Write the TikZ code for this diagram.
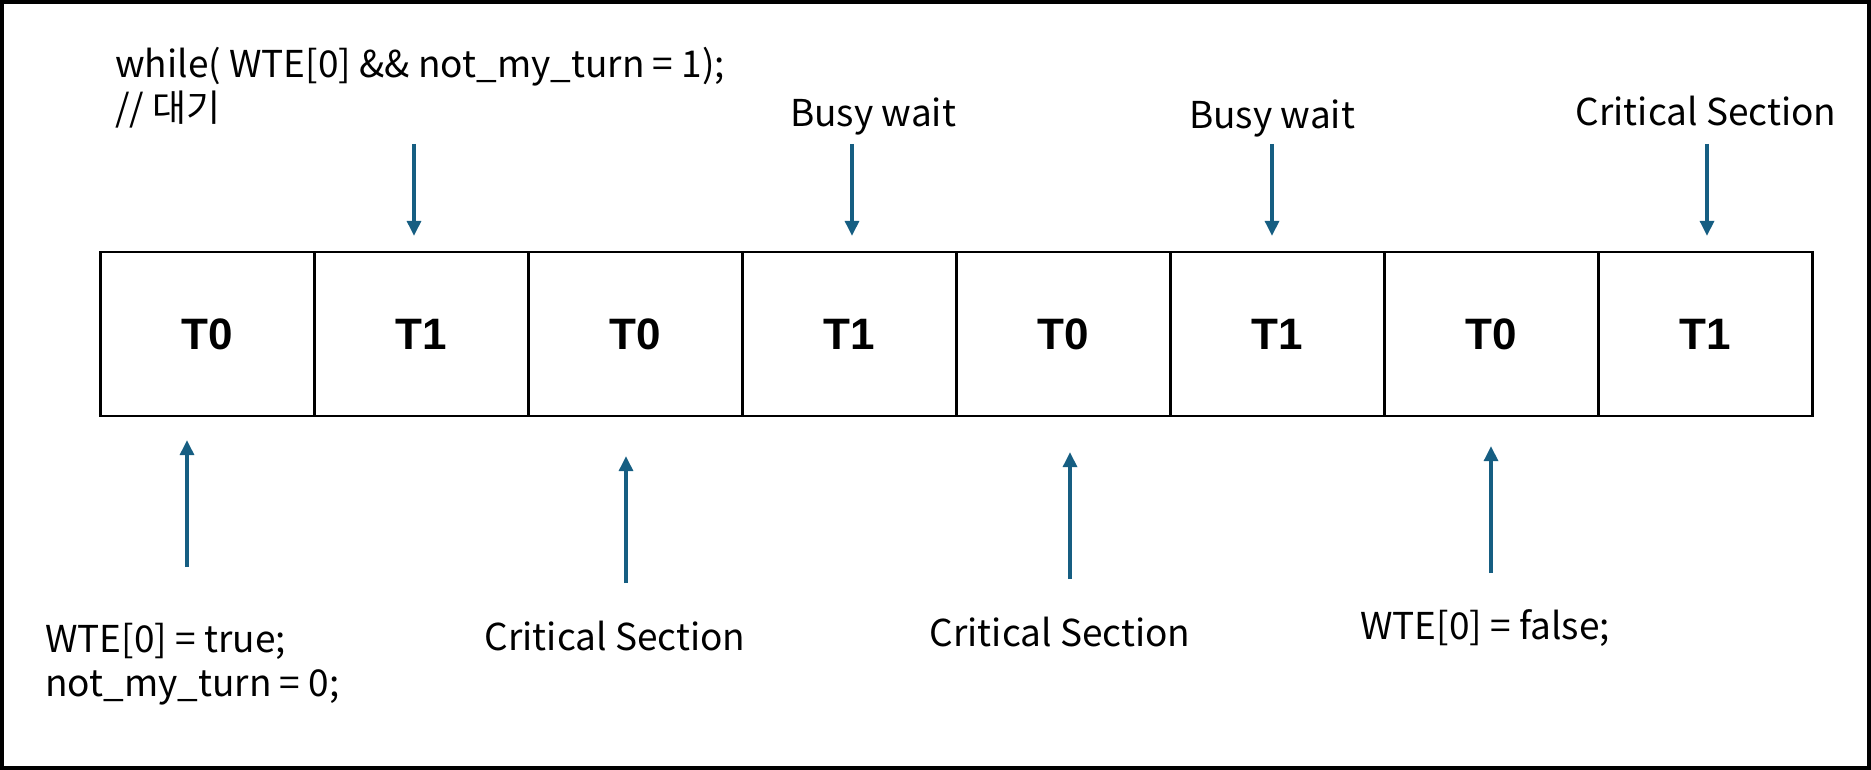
\documentclass[tikz,border=0pt]{standalone}
\usepackage{fontspec}
\setmainfont{Noto Sans CJK KR}
\newfontfamily\cellfont{Liberation Sans}
\usetikzlibrary{arrows.meta,positioning}
\definecolor{arrowblue}{RGB}{22,94,130}

\begin{document}
\begin{tikzpicture}[x=1pt,y=-1pt,node distance=214pt,on grid,
    cell/.style={draw,line width=2.3pt,minimum width=214pt,minimum height=164pt,
      font=\cellfont\bfseries\fontsize{44}{48}\selectfont},
    txt/.style={font=\fontsize{37}{44}\selectfont,inner sep=0pt},
    arr/.style={draw=arrowblue,line width=3.2pt,-{Triangle[width=14pt,length=15pt]}}]
  \useasboundingbox (0,0) rectangle (1871,770);
  \draw[line width=4pt] (2,2) rectangle (1869,768);

  % time slices
  \node[cell] (t_0) at (207.5,334) {T0};
  \node[cell] (t_1) [right=of t_0] {T1};
  \node[cell] (t_2) [right=of t_1] {T0};
  \node[cell] (t_3) [right=of t_2] {T1};
  \node[cell] (t_4) [right=of t_3] {T0};
  \node[cell] (t_5) [right=of t_4] {T1};
  \node[cell] (t_6) [right=of t_5] {T0};
  \node[cell] (t_7) [right=of t_6] {T1};

  % labels above
  \node[txt,align=left,anchor=base west] (l_1) at (115,122) {while( WTE[0] \&\& not\_my\_turn = 1);\\// 대기};
  \node[txt,anchor=base] (l_3) at (873,127) {Busy wait};
  \node[txt,anchor=base] (l_5) at (1272,129) {Busy wait};
  \node[txt,anchor=base] (l_7) at (1706,126) {Critical Section};

  % labels below
  \node[txt,align=left,anchor=base west] (l_0) at (45,696) {WTE[0] = true;\\not\_my\_turn = 0;};
  \node[txt,anchor=base] (l_2) at (615,650) {Critical Section};
  \node[txt,anchor=base] (l_4) at (1060,646) {Critical Section};
  \node[txt,anchor=base] (l_6) at (1485,639) {WTE[0] = false;};

  % arrow tails
  \coordinate (s_1) at (414,144);
  \coordinate (s_3) at (852,144);
  \coordinate (s_5) at (1272,144);
  \coordinate (s_7) at (1707,144);
  \coordinate (s_0) at (187,567);
  \coordinate (s_2) at (626,583);
  \coordinate (s_4) at (1070,579);
  \coordinate (s_6) at (1491,573);

  \draw[arr,shorten >=15pt] (s_1) -- (s_1 |- t_1.north);
  \draw[arr,shorten >=15pt] (s_3) -- (s_3 |- t_3.north);
  \draw[arr,shorten >=15pt] (s_5) -- (s_5 |- t_5.north);
  \draw[arr,shorten >=15pt] (s_7) -- (s_7 |- t_7.north);
  \draw[arr,shorten >=23pt] (s_0) -- (s_0 |- t_0.south);
  \draw[arr,shorten >=39pt] (s_2) -- (s_2 |- t_2.south);
  \draw[arr,shorten >=35pt] (s_4) -- (s_4 |- t_4.south);
  \draw[arr,shorten >=29pt] (s_6) -- (s_6 |- t_6.south);
\end{tikzpicture}
\end{document}
